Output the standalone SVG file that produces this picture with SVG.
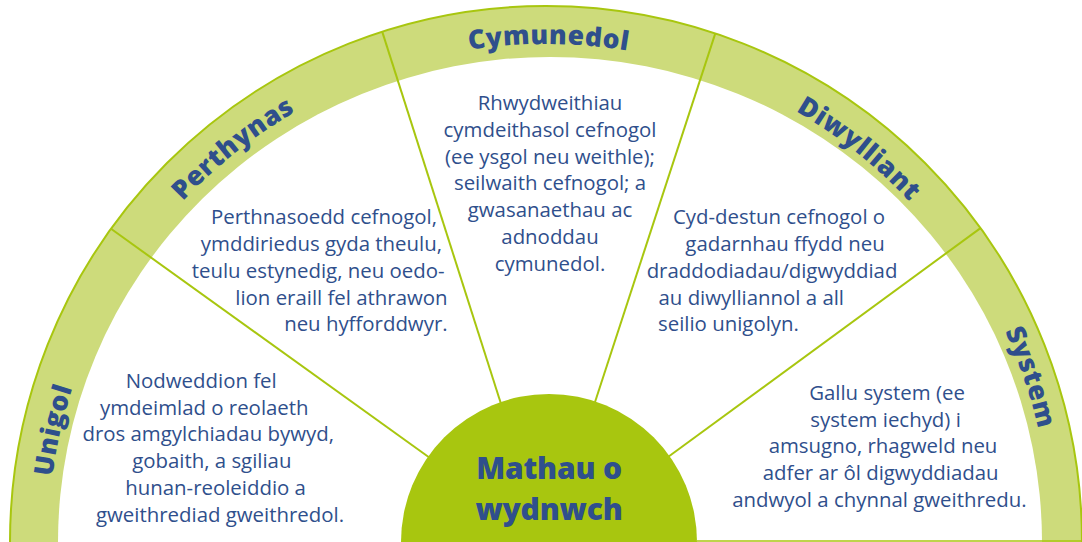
<svg xmlns="http://www.w3.org/2000/svg" width="1082" height="542" viewBox="0 0 1082 542">
  <style>
    .body { font-family: "Open Sans", "Noto Sans", "Liberation Sans", sans-serif; font-size: 20.4px; fill: #2f4f8c; }
    .mid { text-anchor: middle; }
    .end { text-anchor: end; }
    .lab { font-family: "Open Sans", "Noto Sans", "Liberation Sans", sans-serif; font-size: 26.5px; font-weight: 800; fill: #2f4f8c; letter-spacing: 0.6px; text-anchor: middle; }
    .ctr { font-family: "Open Sans", "Noto Sans", "Liberation Sans", sans-serif; font-size: 30px; font-weight: 800; fill: #2f4f8c; letter-spacing: -0.2px; text-anchor: middle; }
    .div { stroke: #a8c60f; stroke-width: 2; fill: none; }
  </style>
  <defs>
    <path id="arc498" d="M 48 542 A 498 498 0 0 1 1044 542"/>
    <path id="arc505" d="M 41 542 A 505 505 0 0 1 1051 542"/>
  </defs>
  <rect width="1082" height="542" fill="#ffffff"/>
  <g id="band">
    <circle cx="546" cy="542" r="536" fill="#cddb7b" stroke="#a8c60f" stroke-width="2"/>
    <ellipse cx="550" cy="542" rx="492" ry="485" fill="#ffffff"/>
    <line x1="697" y1="541" x2="1082" y2="541" stroke="#a8c60f" stroke-width="1.5"/>
  </g>
  <g id="connectors">
    <line class="div" x1="430" y1="458" x2="111" y2="228.8"/>
    <line class="div" x1="502" y1="407" x2="382.2" y2="31.6"/>
    <line class="div" x1="593.4" y1="407" x2="715.3" y2="33.4"/>
    <line class="div" x1="668" y1="457" x2="980.5" y2="228.1"/>
  </g>
  <g id="unigol">
    <text class="lab"><textPath href="#arc498" startOffset="111.2">Unigol</textPath></text>
    <text class="body mid" x="201.2" y="388">Nodweddion fel</text>
    <text class="body mid" x="204.3" y="414.7">ymdeimlad o reolaeth</text>
    <text class="body mid" x="208.2" y="441.4">dros amgylchiadau bywyd,</text>
    <text class="body mid" x="211.8" y="468.1">gobaith, a sgiliau</text>
    <text class="body mid" x="215.6" y="494.8">hunan-reoleiddio a</text>
    <text class="body mid" x="220" y="521.5">gweithrediad gweithredol.</text>
  </g>
  <g id="perthynas">
    <text class="lab"><textPath href="#arc498" startOffset="447.6">Perthynas</textPath></text>
    <text class="body end" x="437" y="224.4">Perthnasoedd cefnogol,</text>
    <text class="body end" x="442" y="251.1">ymddiriedus gyda theulu,</text>
    <text class="body end" x="444.5" y="277.8">teulu estynedig, neu oedo-</text>
    <text class="body end" x="447.6" y="304.5">lion eraill fel athrawon</text>
    <text class="body end" x="447.6" y="331.2">neu hyfforddwyr.</text>
  </g>
  <g id="cymunedol">
    <text class="lab"><textPath href="#arc498" startOffset="784.9">Cymunedol</textPath></text>
    <text class="body mid" x="550" y="110">Rhwydweithiau</text>
    <text class="body mid" x="550" y="136.8">cymdeithasol cefnogol</text>
    <text class="body mid" x="550" y="163.6">(ee ysgol neu weithle);</text>
    <text class="body mid" x="550" y="190.4">seilwaith cefnogol; a</text>
    <text class="body mid" x="550" y="217.2">gwasanaethau ac</text>
    <text class="body mid" x="550" y="244">adnoddau</text>
    <text class="body mid" x="550" y="270.8">cymunedol.</text>
  </g>
  <g id="diwylliant">
    <text class="lab"><textPath href="#arc498" startOffset="1116.9">Diwylliant</textPath></text>
    <text class="body mid" x="779" y="224.4">Cyd-destun cefnogol o</text>
    <text class="body mid" x="785" y="251.1">gadarnhau ffydd neu</text>
    <text class="body mid" x="772" y="277.8">draddodiadau/digwyddiad</text>
    <text class="body" x="658.5" y="304.5">au diwylliannol a all</text>
    <text class="body" x="658" y="331.2">seilio unigolyn.</text>
  </g>
  <g id="system">
    <text class="lab"><textPath href="#arc505" startOffset="1420.8">System</textPath></text>
    <text class="body mid" x="887" y="399.7">Gallu system (ee</text>
    <text class="body mid" x="885.5" y="426.5">system iechyd) i</text>
    <text class="body mid" x="883" y="453.2">amsugno, rhagweld neu</text>
    <text class="body mid" x="880.7" y="480">adfer ar ôl digwyddiadau</text>
    <text class="body mid" x="879.4" y="506.7">andwyol a chynnal gweithredu.</text>
  </g>
  <g id="centre">
    <circle cx="549" cy="542" r="148" fill="#a8c60f"/>
    <text class="ctr" x="549" y="478.5">Mathau o<tspan x="549" y="519.5">wydnwch</tspan></text>
  </g>
</svg>
